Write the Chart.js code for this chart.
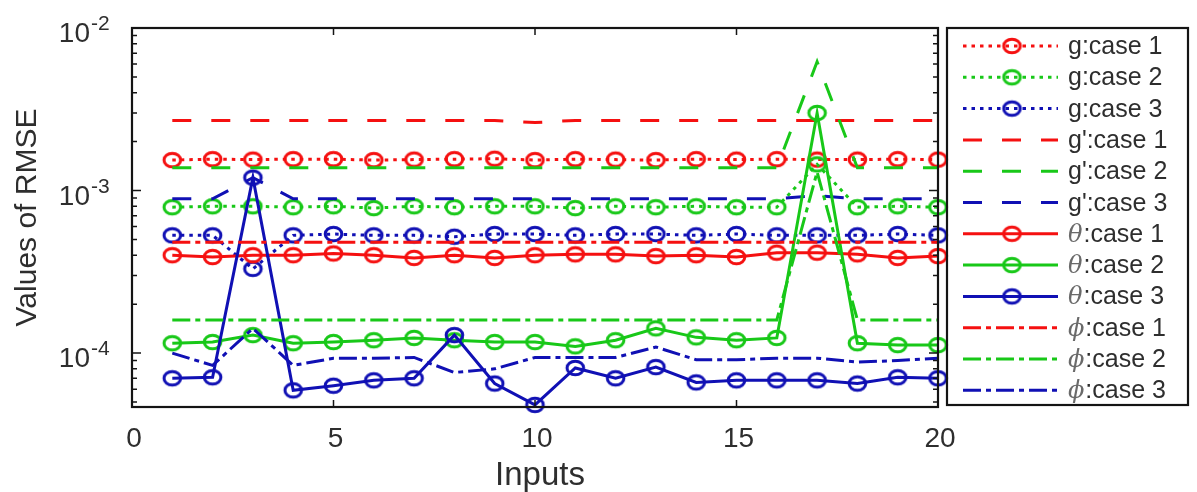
<!DOCTYPE html>
<html>
<head>
<meta charset="utf-8">
<script src="https://cdn.jsdelivr.net/npm/chart.js@4.4.1/dist/chart.umd.min.js"></script>
<style>
  html, body { margin: 0; padding: 0; background: #fff; }
</style>
</head>
<body>
<canvas id="rmseChart" width="1197" height="492"></canvas>
<script>
const inputs = [1, 2, 3, 4, 5, 6, 7, 8, 9, 10, 11, 12, 13, 14, 15, 16, 17, 18, 19, 20];

const gCase1 = [1.54e-3, 1.56e-3, 1.55e-3, 1.56e-3, 1.56e-3, 1.54e-3, 1.55e-3, 1.56e-3, 1.57e-3, 1.54e-3,
  1.56e-3, 1.55e-3, 1.54e-3, 1.56e-3, 1.55e-3, 1.56e-3, 1.55e-3, 1.55e-3, 1.56e-3, 1.55e-3];
const gCase2 = [7.9e-4, 8.0e-4, 8.0e-4, 7.9e-4, 8.0e-4, 7.8e-4, 8.0e-4, 7.9e-4, 8.0e-4, 8.0e-4,
  7.8e-4, 8.0e-4, 7.9e-4, 8.0e-4, 7.9e-4, 7.9e-4, 1.45e-3, 7.9e-4, 8.0e-4, 7.9e-4];
const gCase3 = [5.3e-4, 5.3e-4, 3.3e-4, 5.3e-4, 5.4e-4, 5.3e-4, 5.3e-4, 5.2e-4, 5.4e-4, 5.4e-4,
  5.3e-4, 5.4e-4, 5.4e-4, 5.3e-4, 5.4e-4, 5.3e-4, 5.3e-4, 5.3e-4, 5.4e-4, 5.3e-4];
const gpCase1 = [2.7e-3, 2.7e-3, 2.7e-3, 2.7e-3, 2.7e-3, 2.7e-3, 2.7e-3, 2.7e-3, 2.7e-3, 2.62e-3,
  2.7e-3, 2.7e-3, 2.7e-3, 2.7e-3, 2.7e-3, 2.7e-3, 2.7e-3, 2.7e-3, 2.7e-3, 2.7e-3];
const gpCase2 = [1.38e-3, 1.38e-3, 1.38e-3, 1.38e-3, 1.38e-3, 1.38e-3, 1.38e-3, 1.38e-3, 1.38e-3, 1.38e-3,
  1.38e-3, 1.38e-3, 1.38e-3, 1.38e-3, 1.38e-3, 1.38e-3, 6.2e-3, 1.38e-3, 1.38e-3, 1.38e-3];
const gpCase3 = [8.9e-4, 8.9e-4, 1.2e-3, 8.9e-4, 8.9e-4, 8.9e-4, 8.9e-4, 8.9e-4, 8.9e-4, 8.9e-4,
  8.9e-4, 8.9e-4, 8.9e-4, 8.9e-4, 8.9e-4, 8.9e-4, 9.3e-4, 8.9e-4, 8.9e-4, 8.9e-4];
const thCase1 = [4.0e-4, 3.9e-4, 4.0e-4, 4.0e-4, 4.1e-4, 4.0e-4, 3.85e-4, 4.0e-4, 3.85e-4, 4.0e-4,
  4.05e-4, 4.05e-4, 3.95e-4, 4.0e-4, 3.9e-4, 4.15e-4, 4.15e-4, 4.05e-4, 3.85e-4, 3.95e-4];
const thCase2 = [1.15e-4, 1.17e-4, 1.29e-4, 1.15e-4, 1.17e-4, 1.2e-4, 1.24e-4, 1.2e-4, 1.17e-4, 1.17e-4,
  1.1e-4, 1.2e-4, 1.42e-4, 1.25e-4, 1.2e-4, 1.24e-4, 3.0e-3, 1.15e-4, 1.12e-4, 1.12e-4];
const thCase3 = [7.0e-5, 7.1e-5, 1.2e-3, 5.9e-5, 6.3e-5, 6.8e-5, 7.0e-5, 1.29e-4, 6.5e-5, 4.8e-5,
  8.1e-5, 7.0e-5, 8.2e-5, 6.6e-5, 6.8e-5, 6.8e-5, 6.8e-5, 6.5e-5, 7.1e-5, 7.0e-5];
const phCase1 = [4.8e-4, 4.8e-4, 4.8e-4, 4.8e-4, 4.8e-4, 4.8e-4, 4.8e-4, 4.8e-4, 4.8e-4, 4.8e-4,
  4.8e-4, 4.8e-4, 4.8e-4, 4.8e-4, 4.8e-4, 4.8e-4, 4.8e-4, 4.8e-4, 4.8e-4, 4.8e-4];
const phCase2 = [1.6e-4, 1.6e-4, 1.6e-4, 1.6e-4, 1.6e-4, 1.6e-4, 1.6e-4, 1.6e-4, 1.6e-4, 1.6e-4,
  1.6e-4, 1.6e-4, 1.6e-4, 1.6e-4, 1.6e-4, 1.6e-4, 1.3e-3, 1.6e-4, 1.6e-4, 1.6e-4];
const phCase3 = [1.0e-4, 8.4e-5, 1.42e-4, 8.4e-5, 9.3e-5, 9.3e-5, 9.4e-5, 7.6e-5, 8.0e-5, 9.4e-5,
  9.4e-5, 9.4e-5, 1.09e-4, 9.1e-5, 9.1e-5, 9.3e-5, 9.3e-5, 8.8e-5, 9.0e-5, 9.3e-5];

const xTicks = [0, 5, 10, 15, 20];
const yTickExponents = [-2, -3, -4];

const RED = '#f51010';
const GREEN = '#18c818';
const BLUE = '#1010b4';
const TEXT = '#2e2e2e';
const DOTTED = [3.5, 5];
const DASHED = [19, 20];
const DASHDOT = [18, 5, 5, 5];
const SOLID = [];
const LINE_W = 3;

// hollow ellipse marker (the figure was stretched sideways)
function ringMarker(color) {
  const c = document.createElement('canvas');
  c.width = 23;
  c.height = 20;
  const g = c.getContext('2d');
  g.strokeStyle = color;
  g.lineWidth = 3;
  g.beginPath();
  g.ellipse(11.5, 10, 8.3, 6.8, 0, 0, Math.PI * 2);
  g.stroke();
  return c;
}

const markers = { [RED]: ringMarker(RED), [GREEN]: ringMarker(GREEN), [BLUE]: ringMarker(BLUE) };

function series(sym, caseNo, values, color, dash, withMarker) {
  return {
    label: `${sym}:case ${caseNo}`,
    sym,
    caseNo,
    data: inputs.map((x, i) => ({ x, y: values[i] })),
    borderColor: color,
    backgroundColor: 'transparent',
    borderWidth: LINE_W,
    borderDash: dash,
    borderCapStyle: 'butt',
    tension: 0,
    pointStyle: withMarker ? markers[color] : false,
    pointRadius: withMarker ? 9 : 0,
    pointHoverRadius: withMarker ? 9 : 0,
    clip: false,
  };
}

const datasets = [
  series('g', 1, gCase1, RED, DOTTED, true),
  series('g', 2, gCase2, GREEN, DOTTED, true),
  series('g', 3, gCase3, BLUE, DOTTED, true),
  series("g'", 1, gpCase1, RED, DASHED, false),
  series("g'", 2, gpCase2, GREEN, DASHED, false),
  series("g'", 3, gpCase3, BLUE, DASHED, false),
  series('θ', 1, thCase1, RED, SOLID, true),
  series('θ', 2, thCase2, GREEN, SOLID, true),
  series('θ', 3, thCase3, BLUE, SOLID, true),
  series('ϕ', 1, phCase1, RED, DASHDOT, false),
  series('ϕ', 2, phCase2, GREEN, DASHDOT, false),
  series('ϕ', 3, phCase3, BLUE, DASHDOT, false),
];
// later series on top, like the original plot
datasets.forEach((d, i) => { d.order = datasets.length - i; });

const axesAndLegend = {
  id: 'axesAndLegend',
  afterDatasetsDraw(chart) {
    const { ctx, chartArea: a, scales } = chart;
    const xs = scales.x;
    const ys = scales.y;
    ctx.save();

    // frame
    ctx.strokeStyle = '#141414';
    ctx.lineWidth = 2.2;
    ctx.setLineDash([]);
    ctx.strokeRect(a.left, a.top, a.right - a.left, a.bottom - a.top);

    // y ticks, major and minor, inside on both sides
    ctx.lineWidth = 1.5;
    ctx.beginPath();
    for (let e = -5; e <= -2; e += 1) {
      for (let m = 1; m <= 9; m += 1) {
        const v = m * 10 ** e;
        if (v >= ys.min && v <= ys.max) {
          const py = ys.getPixelForValue(v);
          const len = m === 1 ? 9 : 5;
          ctx.moveTo(a.left, py);
          ctx.lineTo(a.left + len, py);
          ctx.moveTo(a.right, py);
          ctx.lineTo(a.right - len, py);
        }
      }
    }
    xTicks.forEach((t) => {
      const px = xs.getPixelForValue(t);
      ctx.moveTo(px, a.bottom);
      ctx.lineTo(px, a.bottom - 7);
      ctx.moveTo(px, a.top);
      ctx.lineTo(px, a.top + 7);
    });
    ctx.stroke();

    // tick labels
    ctx.fillStyle = TEXT;
    ctx.font = '28px "Liberation Sans", Arial, sans-serif';
    ctx.textAlign = 'center';
    ctx.textBaseline = 'alphabetic';
    xTicks.forEach((t) => {
      ctx.fillText(String(t), xs.getPixelForValue(t) + 2, a.bottom + 40);
    });
    yTickExponents.forEach((e) => {
      const py = ys.getPixelForValue(10 ** e);
      ctx.font = '28px "Liberation Sans", Arial, sans-serif';
      ctx.textAlign = 'right';
      ctx.fillText('10', 90, py + 14);
      ctx.font = '21px "Liberation Sans", Arial, sans-serif';
      ctx.textAlign = 'left';
      ctx.fillText(String(e), 91, py + 2);
    });

    // axis titles
    ctx.font = '33px "Liberation Sans", Arial, sans-serif';
    ctx.textAlign = 'center';
    ctx.fillText('Inputs', (a.left + a.right) / 2 + 5, 485);
    ctx.save();
    ctx.translate(36, (a.top + a.bottom) / 2);
    ctx.rotate(-Math.PI / 2);
    ctx.font = '30px "Liberation Sans", Arial, sans-serif';
    ctx.fillText('Values of RMSE', 0, 0);
    ctx.restore();

    // legend box
    const box = { left: 947, top: 28, right: 1188, bottom: 405 };
    ctx.strokeStyle = '#141414';
    ctx.lineWidth = 2.2;
    ctx.strokeRect(box.left, box.top, box.right - box.left, box.bottom - box.top);
    chart.data.datasets.forEach((d, i) => {
      const ly = 46 + i * 31.3;
      ctx.strokeStyle = d.borderColor;
      ctx.lineWidth = LINE_W;
      ctx.setLineDash(d.borderDash);
      ctx.beginPath();
      ctx.moveTo(963, ly);
      ctx.lineTo(1058, ly);
      ctx.stroke();
      ctx.setLineDash([]);
      if (d.pointStyle) {
        ctx.drawImage(d.pointStyle, 1012 - 11.5, ly - 10);
      }
      ctx.fillStyle = TEXT;
      ctx.textAlign = 'left';
      let tx = 1068;
      const greek = d.sym === 'θ' || d.sym === 'ϕ';
      if (greek) {
        ctx.fillStyle = '#6a6a6a';
        ctx.font = 'italic 24px "DejaVu Serif", serif';
        ctx.fillText(d.sym, tx, ly + 8);
        tx += ctx.measureText(d.sym).width + 1;
        ctx.fillStyle = TEXT;
        ctx.font = '25px "Liberation Sans", Arial, sans-serif';
        ctx.fillText(`:case ${d.caseNo}`, tx, ly + 8);
      } else {
        ctx.font = '25px "Liberation Sans", Arial, sans-serif';
        ctx.fillText(d.label, tx, ly + 8);
      }
    });
    ctx.restore();
  },
};

document.addEventListener('DOMContentLoaded', () => {
  const ctx = document.getElementById('rmseChart');
  // eslint-disable-next-line no-unused-vars,no-undef
  const rmseChart = new Chart(ctx, {
    type: 'line',
    data: { datasets },
    options: {
      responsive: false,
      animation: false,
      events: [],
      layout: { padding: { left: 132, top: 28, right: 259, bottom: 85 } },
      scales: {
        x: { type: 'linear', min: 0, max: 20, display: false },
        y: { type: 'logarithmic', min: 4.66e-5, max: 1e-2, display: false },
      },
      plugins: {
        legend: { display: false },
        tooltip: { enabled: false },
      },
    },
    plugins: [axesAndLegend],
  });
});
</script>
</body>
</html>
